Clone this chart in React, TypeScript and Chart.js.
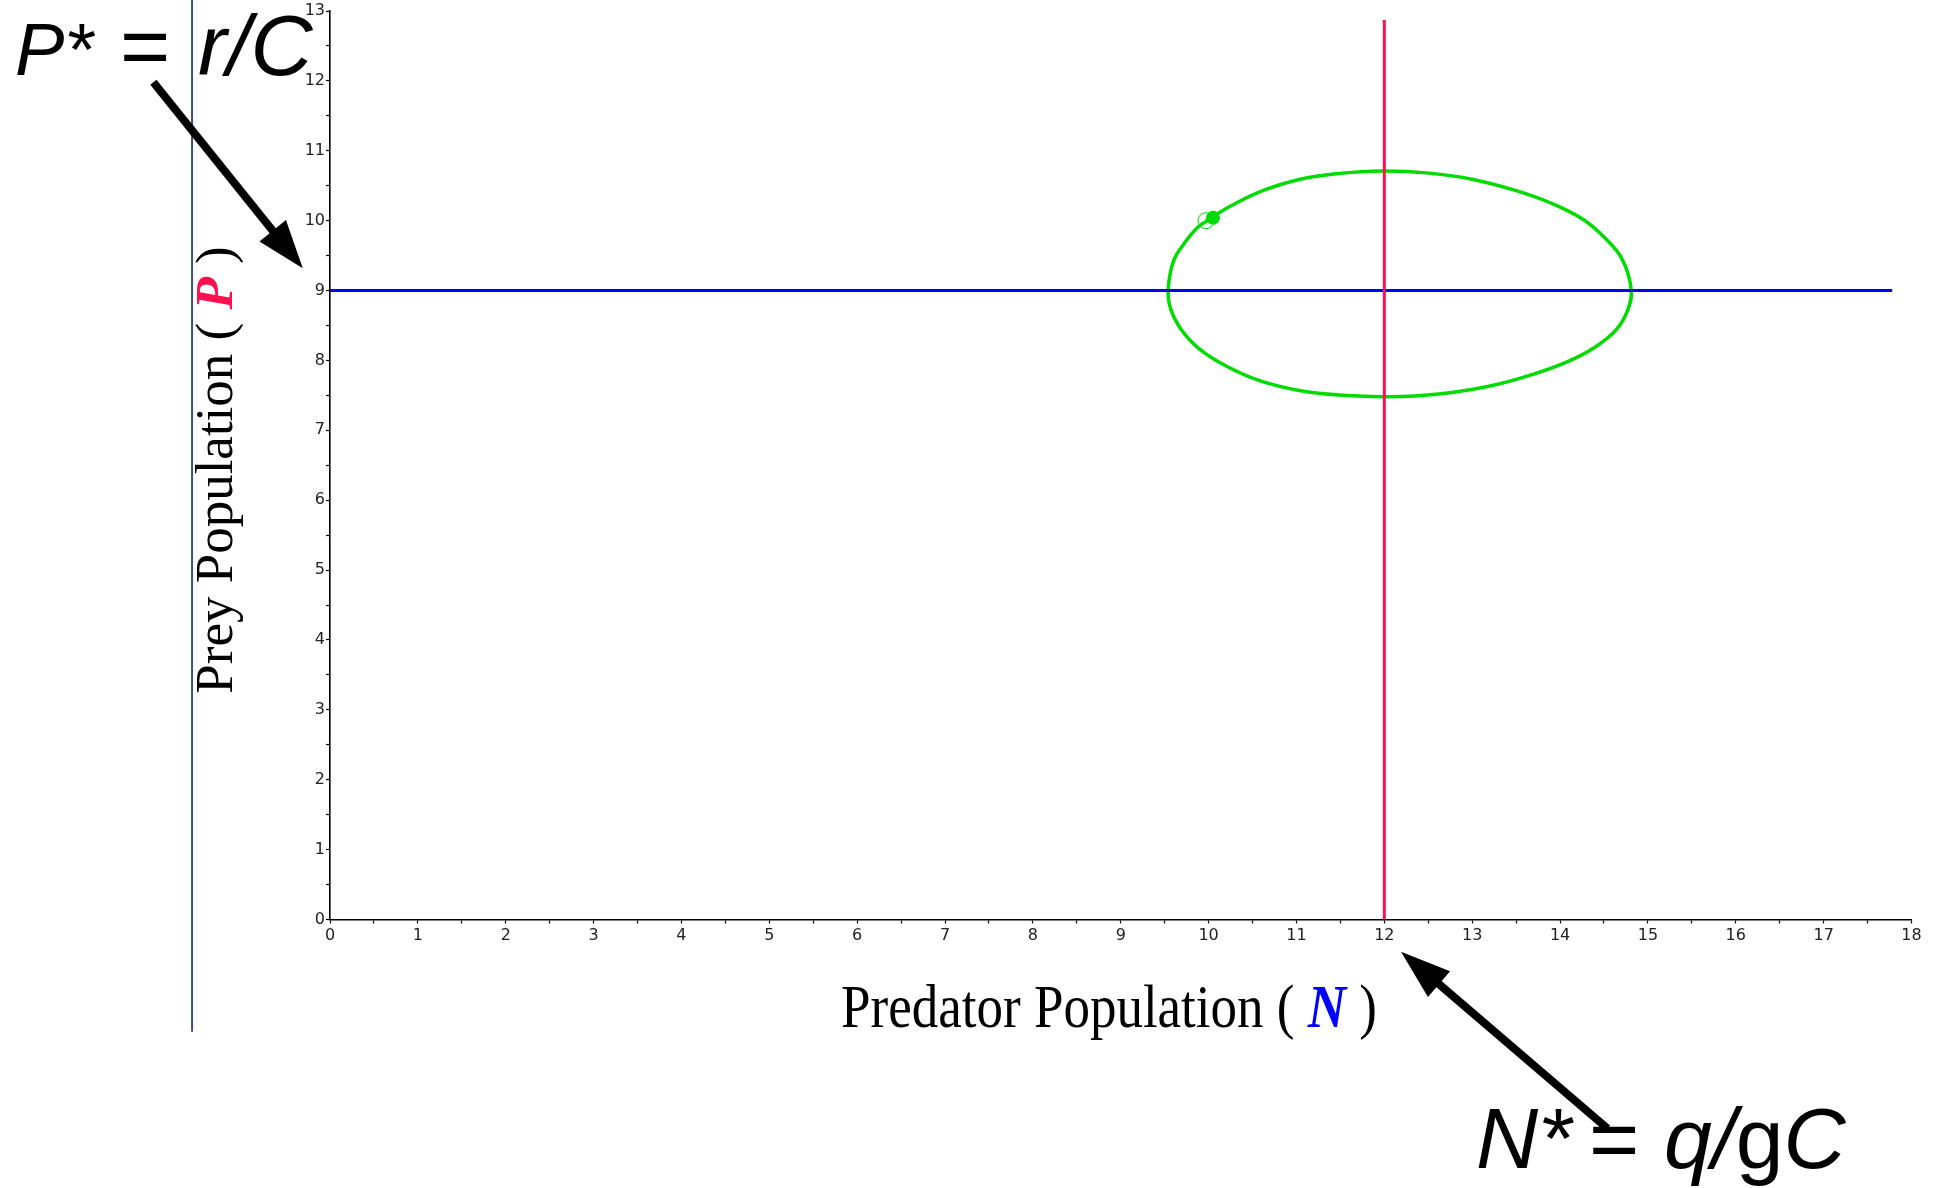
import React, { useEffect, useRef } from 'react';
import { Chart, registerables } from 'chart.js';

Chart.register(...registerables);

// ---------- data ----------
const xMajorTicks = [0, 1, 2, 3, 4, 5, 6, 7, 8, 9, 10, 11, 12, 13, 14, 15, 16, 17, 18];
const yMajorTicks = [0, 1, 2, 3, 4, 5, 6, 7, 8, 9, 10, 11, 12, 13];

// Trajectory (predator N, prey P), traced clockwise from the start point
const orbitN = [
  9.97, 10.31, 10.66, 11.03, 11.45, 11.98, 12.51, 13.01, 13.5, 13.88, 14.26, 14.52, 14.71, 14.81,
  14.77, 14.64, 14.41, 14.1, 13.69, 13.19, 12.62, 12.06, 11.53, 11.03, 10.58, 10.2, 9.89, 9.69,
  9.57, 9.54, 9.6, 9.72, 9.89, 10.05,
];
const orbitP = [
  10.0, 10.25, 10.45, 10.59, 10.67, 10.71, 10.68, 10.59, 10.43, 10.26, 10.02, 9.74, 9.44, 9.01,
  8.72, 8.44, 8.2, 7.99, 7.8, 7.63, 7.52, 7.48, 7.5, 7.57, 7.71, 7.92, 8.17, 8.44,
  8.73, 9.01, 9.42, 9.67, 9.92, 10.04,
];
const startPoint = [9.97, 10.0];
const endPoint = [10.05, 10.04];

// Equilibrium lines
const preyEquilibrium = 9; // P* = r/C
const preyLineN = [0, 17.78];
const predatorEquilibrium = 12; // N* = q/gC
const predatorLineP = [0, 12.87];

// Annotation arrows in data units: [tailN, tailP, tipN, tipP]
const pStarArrow = [-2.01, 11.98, -0.31, 9.32];
const nStarArrow = [14.54, -2.99, 12.19, -0.46];
// Left frame line: [N, topP, bottomP]
const frameLine = [-1.57, 13.4, -1.606];

const GREEN = 'rgb(0,220,0)';
const BLUE = '#0000ff';
const RED = '#ff0f4f';

type Piece = { text: string; color: string; font: string };

function drawPieces(ctx: CanvasRenderingContext2D, pieces: Piece[], x: number, y: number) {
  let cx = x;
  for (const p of pieces) {
    ctx.font = p.font;
    ctx.fillStyle = p.color;
    ctx.fillText(p.text, cx, y);
    cx += ctx.measureText(p.text).width;
  }
}
function piecesWidth(ctx: CanvasRenderingContext2D, pieces: Piece[]) {
  let w = 0;
  for (const p of pieces) {
    ctx.font = p.font;
    w += ctx.measureText(p.text).width;
  }
  return w;
}

function drawArrow(
  ctx: CanvasRenderingContext2D,
  x1: number, y1: number, x2: number, y2: number,
  shaft: number, headLen: number, headHalf: number
) {
  const dx = x2 - x1, dy = y2 - y1;
  const len = Math.hypot(dx, dy);
  const ux = dx / len, uy = dy / len;
  const bx = x2 - ux * headLen, by = y2 - uy * headLen;
  ctx.save();
  ctx.strokeStyle = '#000';
  ctx.fillStyle = '#000';
  ctx.lineWidth = shaft;
  ctx.lineCap = 'butt';
  ctx.beginPath();
  ctx.moveTo(x1, y1);
  ctx.lineTo(bx + ux * 2, by + uy * 2);
  ctx.stroke();
  ctx.beginPath();
  ctx.moveTo(x2, y2);
  ctx.lineTo(bx - uy * headHalf, by + ux * headHalf);
  ctx.lineTo(bx + uy * headHalf, by - ux * headHalf);
  ctx.closePath();
  ctx.fill();
  ctx.restore();
}

const annotationPlugin = {
  id: 'lvAnnotations',
  afterDraw(chart: any) {
    const ctx: CanvasRenderingContext2D = chart.ctx;
    const xs = chart.scales.x;
    const ys = chart.scales.y;
    const px = (v: number) => xs.getPixelForValue(v);
    const py = (v: number) => ys.getPixelForValue(v);

    ctx.save();
    // frame line
    ctx.strokeStyle = '#3d5070';
    ctx.lineWidth = 2;
    ctx.beginPath();
    ctx.moveTo(px(frameLine[0]), py(frameLine[1]));
    ctx.lineTo(px(frameLine[0]), py(frameLine[2]));
    ctx.stroke();

    // axis titles
    const serif = '53px "Liberation Serif"';
    const serifBI = 'italic bold 53px "Liberation Serif"';
    ctx.textBaseline = 'alphabetic';
    ctx.textAlign = 'left';
    const xTitle: Piece[] = [
      { text: 'Predator Population ( ', color: '#000', font: serif },
      { text: 'N', color: BLUE, font: serifBI },
      { text: ' )', color: '#000', font: serif },
    ];
    const xw = piecesWidth(ctx, xTitle);
    ctx.save();
    ctx.translate(0, 1027);
    ctx.scale(1, 1.15);
    drawPieces(ctx, xTitle, 1109 - xw / 2, 0);
    ctx.restore();

    const yTitle: Piece[] = [
      { text: 'Prey Population ( ', color: '#000', font: serif },
      { text: 'P', color: RED, font: serifBI },
      { text: ' )', color: '#000', font: serif },
    ];
    const yw = piecesWidth(ctx, yTitle);
    ctx.save();
    ctx.translate(232, 470);
    ctx.rotate(-Math.PI / 2);
    drawPieces(ctx, yTitle, -yw / 2, 0);
    ctx.restore();

    // equation labels
    const it74 = 'italic 74px "Liberation Sans"';
    const it86 = 'italic 86px "Liberation Sans"';
    const re86 = '86px "Liberation Sans"';
    drawPieces(ctx, [{ text: 'P*', color: '#000', font: it74 }], 15, 75);
    drawPieces(ctx, [{ text: '=', color: '#000', font: re86 }], 120, 75);
    drawPieces(ctx, [{ text: 'r/C', color: '#000', font: it86 }], 198, 75);

    drawPieces(ctx, [{ text: 'N*', color: '#000', font: it86 }], 1476, 1168);
    drawPieces(ctx, [{ text: '=', color: '#000', font: re86 }], 1589, 1168);
    drawPieces(
      ctx,
      [
        { text: 'q/', color: '#000', font: it86 },
        { text: 'g', color: '#000', font: re86 },
        { text: 'C', color: '#000', font: it86 },
      ],
      1664,
      1168
    );

    // arrows
    drawArrow(ctx, px(pStarArrow[0]), py(pStarArrow[1]), px(pStarArrow[2]), py(pStarArrow[3]), 8, 48, 17);
    drawArrow(ctx, px(nStarArrow[0]), py(nStarArrow[1]), px(nStarArrow[2]), py(nStarArrow[3]), 8, 50, 17);
    ctx.restore();
  },
};

export default function App() {
  const canvasRef = useRef<HTMLCanvasElement | null>(null);

  useEffect(() => {
    document.body.style.margin = '0';
    document.body.style.overflow = 'hidden';
    const canvas = canvasRef.current;
    if (!canvas) return;

    const orbit = orbitN.map((n, i) => ({ x: n, y: orbitP[i] }));

    const axisCommon = {
      type: 'linear' as const,
      grid: {
        display: true,
        drawOnChartArea: false,
        drawTicks: true,
        tickLength: 4,
        tickColor: '#000',
        tickWidth: 1.2,
      },
      border: { display: true, color: '#000', width: 1.6 },
    };

    const chart = new Chart(canvas, {
      type: 'scatter',
      data: {
        datasets: [
          {
            data: [
              { x: predatorEquilibrium, y: predatorLineP[0] },
              { x: predatorEquilibrium, y: predatorLineP[1] },
            ],
            showLine: true,
            borderColor: RED,
            borderWidth: 3,
            pointRadius: 0,
            order: 0,
          },
          {
            data: [
              { x: preyLineN[0], y: preyEquilibrium },
              { x: preyLineN[1], y: preyEquilibrium },
            ],
            showLine: true,
            borderColor: BLUE,
            borderWidth: 3,
            pointRadius: 0,
            order: 1,
          },
          {
            data: [{ x: endPoint[0], y: endPoint[1] }],
            showLine: false,
            pointRadius: 7,
            pointBackgroundColor: GREEN,
            pointBorderWidth: 0,
            order: 2,
          },
          {
            data: [{ x: startPoint[0], y: startPoint[1] }],
            showLine: false,
            pointRadius: 8,
            pointBackgroundColor: 'rgba(0,0,0,0)',
            pointBorderColor: GREEN,
            pointBorderWidth: 1,
            order: 3,
          },
          {
            data: orbit,
            showLine: true,
            borderColor: GREEN,
            borderWidth: 3.5,
            pointRadius: 0,
            tension: 0.4,
            order: 4,
          },
        ],
      },
      options: {
        animation: false,
        responsive: false,
        devicePixelRatio: 1,
        events: [],
        layout: { padding: { left: 290, right: 29.5, top: 11, bottom: 228.5 } },
        plugins: { legend: { display: false }, tooltip: { enabled: false }, title: { display: false } },
        scales: {
          x: {
            ...axisCommon,
            position: 'bottom',
            min: 0,
            max: 18,
            ticks: {
              stepSize: 0.5,
              autoSkip: false,
              maxRotation: 0,
              minRotation: 0,
              padding: 3,
              color: '#222',
              font: { family: '"DejaVu Sans"', size: 16 },
              callback: (v: any) => (xMajorTicks.includes(Number(v)) ? String(v) : ''),
            },
            afterFit: (s: any) => {
              s.height = 40;
              s.paddingLeft = 0;
              s.paddingRight = 0;
            },
          },
          y: {
            ...axisCommon,
            position: 'left',
            min: 0,
            max: 13,
            ticks: {
              stepSize: 0.5,
              autoSkip: false,
              padding: 1,
              color: '#222',
              font: { family: '"DejaVu Sans"', size: 16 },
              callback: (v: any) => (yMajorTicks.includes(Number(v)) ? String(v) : ''),
            },
            afterFit: (s: any) => {
              s.width = 40;
              s.paddingTop = 0;
              s.paddingBottom = 0;
            },
          },
        },
      },
      plugins: [annotationPlugin],
    } as any);

    return () => chart.destroy();
  }, []);

  return (
    <div style={{ position: 'absolute', left: 0, top: 0, width: 1941, height: 1188, background: '#fff' }}>
      <canvas ref={canvasRef} width={1941} height={1188} style={{ width: 1941, height: 1188, display: 'block' }} />
    </div>
  );
}
